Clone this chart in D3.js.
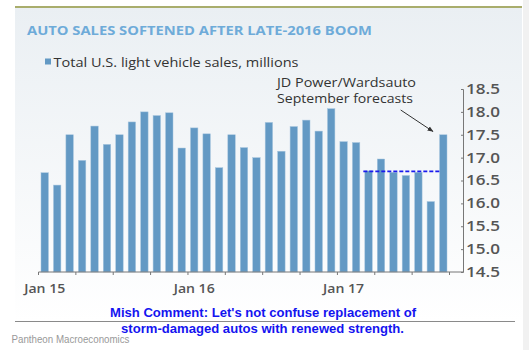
<!DOCTYPE html>
<html lang="en">
<head>
<meta charset="UTF-8">
<title>Auto sales softened after late-2016 boom</title>
<script src="https://d3js.org/d3.v7.min.js"></script>
<style>
  body { margin: 0; background: #fff; }
  svg { font-family: "Open Sans", "Liberation Sans", sans-serif; }
</style>
</head>
<body>
<div id="chart"></div>
<script>
// monthly data, Jan 2015 .. Sep 2017
var months = ["2015-01","2015-02","2015-03","2015-04","2015-05","2015-06","2015-07","2015-08","2015-09","2015-10","2015-11","2015-12",
              "2016-01","2016-02","2016-03","2016-04","2016-05","2016-06","2016-07","2016-08","2016-09","2016-10","2016-11","2016-12",
              "2017-01","2017-02","2017-03","2017-04","2017-05","2017-06","2017-07","2017-08","2017-09"];
var sales = [16.67, 16.40, 17.50, 16.94, 17.69, 17.29, 17.50, 17.78, 18.00, 17.92, 17.98, 17.21,
             17.65, 17.52, 16.78, 17.50, 17.22, 17.00, 17.77, 17.14, 17.68, 17.82, 17.58, 18.07,
             17.35, 17.33, 16.71, 16.97, 16.68, 16.61, 16.68, 16.04, 17.50];
var xTickMonths = ["2015-01", "2016-01", "2017-01"];
var xTickLabels = ["Jan 15", "Jan 16", "Jan 17"];
var yTicks = [14.5, 15.0, 15.5, 16.0, 16.5, 17.0, 17.5, 18.0, 18.5];
var forecastLevel = 16.7;
var forecastSpan = ["2017-03", "2017-09"];

var width = 529, height = 350;
var arial = "\"Liberation Sans\", Arial, sans-serif";

var svg = d3.select("#chart").append("svg")
  .attr("width", width)
  .attr("height", height);

var defs = svg.append("defs");
var grad = defs.append("linearGradient")
  .attr("id", "bg")
  .attr("x1", 0).attr("y1", 0).attr("x2", 0).attr("y2", 1);
grad.append("stop").attr("offset", "0%").attr("stop-color", "#eaeff3");
grad.append("stop").attr("offset", "100%").attr("stop-color", "#ffffff");

defs.append("marker")
  .attr("id", "arrow")
  .attr("viewBox", "0 0 10 10")
  .attr("refX", 9).attr("refY", 5)
  .attr("markerWidth", 6).attr("markerHeight", 6)
  .attr("orient", "auto")
  .append("path")
  .attr("d", "M0,1L10,5L0,9z")
  .attr("fill", "#333");

// panel
svg.append("rect")
  .attr("x", 15).attr("y", 7)
  .attr("width", 507).attr("height", 315)
  .attr("fill", "url(#bg)");
svg.append("rect")
  .attr("x", 523).attr("y", 0)
  .attr("width", 6).attr("height", height)
  .attr("fill", "#f1f1f1");
svg.append("line")
  .attr("x1", 15).attr("x2", 522)
  .attr("y1", 7).attr("y2", 7)
  .attr("stroke", "#a9ad6c")
  .attr("stroke-width", 2);
svg.append("line")
  .attr("x1", 15).attr("x2", 515)
  .attr("y1", 321.5).attr("y2", 321.5)
  .attr("stroke", "#8a8a8a")
  .attr("stroke-width", 1);

// title + legend
svg.append("text")
  .attr("x", 27).attr("y", 35)
  .attr("font-size", 12.5)
  .attr("font-weight", "bold")
  .attr("fill", "#6eabd9")
  .attr("textLength", 345)
  .attr("lengthAdjust", "spacingAndGlyphs")
  .text("AUTO SALES SOFTENED AFTER LATE-2016 BOOM");

svg.append("rect")
  .attr("x", 45).attr("y", 58.5)
  .attr("width", 6).attr("height", 6)
  .attr("fill", "#6399c4");
svg.append("text")
  .attr("x", 53.5).attr("y", 67.3)
  .attr("font-size", 12.5)
  .attr("fill", "#333")
  .attr("textLength", 245)
  .attr("lengthAdjust", "spacingAndGlyphs")
  .text("Total U.S. light vehicle sales, millions");

// scales
var x = d3.scaleBand()
  .domain(months)
  .range([38.5, 449.5])
  .paddingInner(0.4)
  .paddingOuter(0.2);

var y = d3.scaleLinear()
  .domain([14.5, 18.5])
  .range([272, 89]);

// bars
svg.append("g")
  .selectAll("rect")
  .data(months)
  .join("rect")
  .attr("x", d => x(d))
  .attr("width", x.bandwidth())
  .attr("y", (d, i) => y(sales[i]))
  .attr("height", (d, i) => y(14.5) - y(sales[i]))
  .attr("fill", "#6399c4")
  .attr("stroke", "#a9c7df")
  .attr("stroke-width", 0.5);

// x axis: line, quarterly ticks, Jan labels
var step = x.step();
var quarterTicks = d3.range(0, months.length + 1, 3).map(i => x.range()[0] + i * step);
var xg = svg.append("g");
xg.append("line")
  .attr("x1", x.range()[0]).attr("x2", 463)
  .attr("y1", y(14.5)).attr("y2", y(14.5))
  .attr("stroke", "#777").attr("stroke-width", 1);
xg.selectAll(".qt")
  .data(quarterTicks)
  .join("line")
  .attr("x1", d => d).attr("x2", d => d)
  .attr("y1", y(14.5)).attr("y2", y(14.5) + 3)
  .attr("stroke", "#777");
xg.selectAll(".lbl")
  .data(xTickMonths)
  .join("text")
  .attr("x", d => x(d) + x.bandwidth() / 2)
  .attr("y", 292.7)
  .attr("text-anchor", "middle")
  .attr("font-size", 12.5)
  .attr("font-weight", 600)
  .attr("fill", "#555")
  .attr("textLength", 41)
  .attr("lengthAdjust", "spacingAndGlyphs")
  .text((d, i) => xTickLabels[i]);

// y axis on the right
var yAxis = svg.append("g")
  .attr("transform", "translate(463,0)")
  .call(d3.axisRight(y).tickValues(yTicks).tickFormat(d3.format(".1f"))
    .tickSizeInner(-2).tickSizeOuter(-2).tickPadding(3));
yAxis.select(".domain").attr("stroke", "#777");
yAxis.selectAll(".tick line").attr("stroke", "#777");
yAxis.selectAll(".tick text")
  .attr("fill", "#555")
  .attr("textLength", 34)
  .attr("lengthAdjust", "spacingAndGlyphs")
  .style("font-family", "\"Open Sans\", sans-serif")
  .style("font-size", "14px")
  .style("font-weight", 600);

// forecast dashed line
svg.append("line")
  .attr("x1", x(forecastSpan[0]) - 1.5)
  .attr("x2", x(forecastSpan[1]))
  .attr("y1", y(forecastLevel)).attr("y2", y(forecastLevel))
  .attr("stroke", "#1a1aee")
  .attr("stroke-width", 1.6)
  .attr("stroke-dasharray", "4,2");

// annotation
svg.append("text")
  .attr("x", 277).attr("y", 87)
  .attr("font-size", 12.5)
  .attr("fill", "#333")
  .attr("textLength", 139)
  .attr("lengthAdjust", "spacingAndGlyphs")
  .text("JD Power/Wardsauto");
svg.append("text")
  .attr("x", 277).attr("y", 102.7)
  .attr("font-size", 12.5)
  .attr("fill", "#333")
  .attr("textLength", 136)
  .attr("lengthAdjust", "spacingAndGlyphs")
  .text("September forecasts");
svg.append("line")
  .attr("x1", 400.7).attr("y1", 110)
  .attr("x2", 433).attr("y2", 131.5)
  .attr("stroke", "#333")
  .attr("stroke-width", 1)
  .attr("marker-end", "url(#arrow)");

// comment
svg.append("text")
  .attr("x", 263).attr("y", 316.7)
  .attr("text-anchor", "middle")
  .style("font-family", arial)
  .attr("font-size", 13)
  .attr("font-weight", "bold")
  .attr("fill", "#1414f0")
  .attr("textLength", 306)
  .attr("lengthAdjust", "spacingAndGlyphs")
  .text("Mish Comment: Let's not confuse replacement of");
svg.append("text")
  .attr("x", 262.5).attr("y", 332.7)
  .attr("text-anchor", "middle")
  .style("font-family", arial)
  .attr("font-size", 13)
  .attr("font-weight", "bold")
  .attr("fill", "#1414f0")
  .attr("textLength", 283)
  .attr("lengthAdjust", "spacingAndGlyphs")
  .text("storm-damaged autos with renewed strength.");

svg.append("text")
  .attr("x", 11.5).attr("y", 343.3)
  .style("font-family", arial)
  .attr("font-size", 10.5)
  .attr("fill", "#999")
  .attr("textLength", 118)
  .attr("lengthAdjust", "spacingAndGlyphs")
  .text("Pantheon Macroeconomics");
</script>
</body>
</html>
